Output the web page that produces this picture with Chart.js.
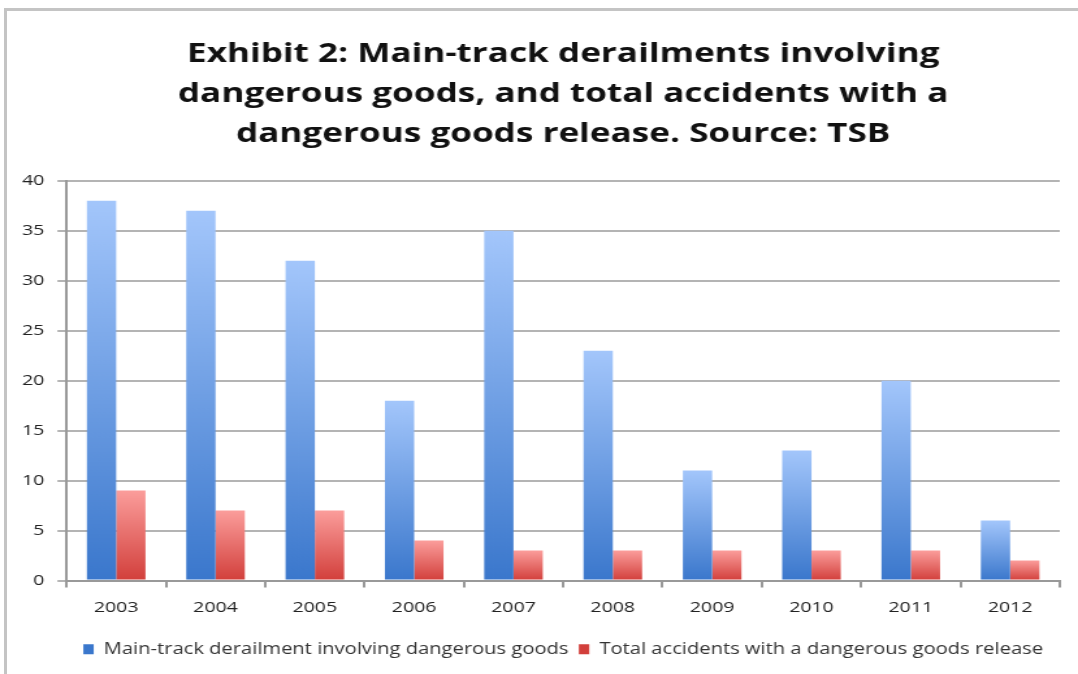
<!DOCTYPE html>
<html>
<head>
<meta charset="utf-8">
<script src="https://cdn.jsdelivr.net/npm/chart.js@4"></script>
<style>
  html, body { margin: 0; padding: 0; background: #fff; overflow: hidden; }
  #frame {
    position: absolute; left: 4px; top: 8px; width: 1100px; height: 700px;
    border: 3px solid #c4c4c4; box-sizing: border-box;
  }
  #chartTsb { position: absolute; left: 0; top: 0; }
</style>
</head>
<body>
<div id="frame"></div>
<!-- drawn narrow, then stretched wide like the exported exhibit -->
<canvas id="chartTsb" width="829" height="674" style="width:1078px;height:674px"></canvas>
<script>
/* ═══════════════════════════════════════════
   TSB DANGEROUS GOODS CHART
═══════════════════════════════════════════ */

const years = ['2003', '2004', '2005', '2006', '2007', '2008', '2009', '2010', '2011', '2012'];
const derailments = [38, 37, 32, 18, 35, 23, 11, 13, 20, 6];
const releases = [9, 7, 7, 4, 3, 3, 3, 3, 3, 2];
const yTicks = [0, 5, 10, 15, 20, 25, 30, 35, 40];

const titleLines = [
    'Exhibit 2: Main-track derailments involving',
    'dangerous goods, and total accidents with a',
    'dangerous goods release. Source: TSB'
];

/**
 * Vertical gradient per bar, light at the top, dark at the base
 */
function barFill(top, bottom, solid) {
    return function (context) {
        const chart = context.chart;
        if (!context.parsed || !chart.chartArea) return solid;
        const y = chart.scales.y;
        const yTop = y.getPixelForValue(context.parsed.y);
        const yBase = y.getPixelForValue(0);
        const g = chart.ctx.createLinearGradient(0, yTop, 0, yBase);
        g.addColorStop(0, top);
        g.addColorStop(1, bottom);
        return g;
    };
}

const ctx = document.getElementById('chartTsb');

new Chart(ctx, {
    type: 'bar',
    data: {
        labels: years,
        datasets: [{
            label: 'Main-track derailment involving dangerous goods',
            data: derailments,
            backgroundColor: barFill('#a3c6fb', '#3a77cc', '#5590e0'),
            barPercentage: 1.0,
            categoryPercentage: 0.59
        }, {
            label: 'Total accidents with a dangerous goods release',
            data: releases,
            backgroundColor: barFill('#fb9d9b', '#d23f3b', '#e45e5b'),
            barPercentage: 1.0,
            categoryPercentage: 0.59
        }]
    },
    options: {
        responsive: false,
        animation: false,
        layout: { padding: { left: 7, right: 14, top: 34, bottom: 7 } },
        plugins: {
            tooltip: { enabled: false },
            title: {
                display: true,
                fullSize: false, // center over the plot, not the whole canvas
                text: titleLines,
                color: '#111',
                font: { family: 'Open Sans', size: 27, weight: 'bold', lineHeight: 1.48 },
                padding: { top: 0, bottom: 27 }
            },
            legend: {
                position: 'bottom',
                fullSize: false,
                labels: {
                    color: '#333',
                    boxWidth: 8,
                    boxHeight: 10,
                    padding: 8,
                    font: { family: 'Open Sans', size: 15.5 }
                }
            }
        },
        scales: {
            x: {
                offset: true,
                grid: {
                    offset: true,
                    drawOnChartArea: false,
                    drawTicks: true,
                    tickLength: 7,
                    color: '#999',
                    lineWidth: 2
                },
                border: { color: '#999', width: 2 },
                ticks: {
                    color: '#222',
                    padding: 11,
                    font: { family: 'Open Sans', size: 15 }
                },
                afterFit: axis => { axis.height += 6; }
            },
            y: {
                min: 0,
                max: 40,
                afterBuildTicks: axis => { axis.ticks = yTicks.map(v => ({ value: v })); },
                grid: {
                    color: '#b4b4b4',
                    lineWidth: 2,
                    tickLength: 7
                },
                border: { color: '#999', width: 2 },
                ticks: {
                    color: '#222',
                    padding: 10,
                    font: { family: 'Open Sans', size: 15 }
                }
            }
        }
    }
});
</script>
</body>
</html>
